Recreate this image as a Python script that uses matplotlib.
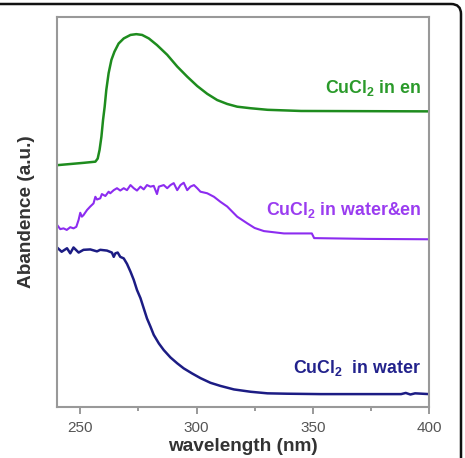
import matplotlib
matplotlib.use('Agg')
import matplotlib.pyplot as plt
from matplotlib.path import Path
from matplotlib.patches import PathPatch

plt.rcParams['font.family'] = ['Liberation Sans', 'DejaVu Sans']
plt.rcParams['mathtext.fontset'] = 'custom'
plt.rcParams['mathtext.bf'] = 'Liberation Sans:bold'
plt.rcParams['mathtext.rm'] = 'Liberation Sans:bold'
plt.rcParams['mathtext.default'] = 'bf'

# CuCl2 in en
wl_en = [240, 245.7, 251.4, 256.5, 257.5, 258.3, 259.1, 259.8, 260.5, 261.2,
         262.2, 263.4, 264.7, 266.5, 268.7, 271.6, 274.1, 276.6, 279.5, 283.0,
         287.4, 291.7, 296.0, 300.3, 304.6, 308.9, 313.2, 317.5, 323.3, 330.6,
         345, 400]
ab_en = [62.0, 62.3, 62.6, 62.9, 63.7, 65.9, 69.3, 73.6, 77.0, 81.3,
         85.6, 89.0, 91.1, 93.2, 94.5, 95.4, 95.6, 95.4, 94.5, 92.8,
         90.3, 87.3, 84.7, 82.3, 80.3, 78.7, 77.7, 77.0, 76.6, 76.2,
         75.9, 75.8]

# CuCl2 in water&en
wl_mix = [240, 241.4, 242.8, 244.2, 245.7, 247.1, 248.3, 249.3, 250.0, 250.7,
          251.4, 252.9, 254.3, 255.7, 256.5, 257.2, 258.6, 259.3, 260.8, 262.2,
          262.9, 264.4, 265.8, 267.2, 268.7, 270.1, 271.6, 273.0, 274.4, 275.9,
          277.3, 278.7, 280.2, 281.6, 283.0, 283.8, 285.9, 287.4, 288.8, 290.2,
          291.7, 293.1, 294.5, 296.0, 297.4, 298.9, 300.3, 301.7, 304.6, 307.5,
          310.3, 313.2, 317.5, 321.8, 325, 329, 337.6, 349.6, 350.6, 373.6, 400]
ab_mix = [46.7, 45.6, 45.8, 45.4, 46.1, 45.8, 46.2, 48.0, 49.8, 48.8,
          49.2, 50.5, 51.4, 52.2, 53.9, 53.2, 53.5, 54.6, 54.1, 55.2,
          54.8, 55.6, 56.1, 55.5, 56.1, 55.6, 56.9, 56.1, 55.5, 56.5,
          55.8, 56.9, 56.5, 56.7, 54.6, 56.5, 56.9, 56.1, 56.9, 57.4,
          55.6, 56.9, 57.5, 55.6, 56.5, 56.9, 56.1, 55.2, 54.8, 53.9,
          52.6, 51.4, 48.8, 47.1, 45.9, 45.1, 44.5, 44.5, 43.3, 43.1, 43.0]

# CuCl2 in water
wl_w = [240, 242, 244.3, 245.7, 247.1, 249.3, 251.4, 254.3, 257.2, 258.6,
        261.5, 263.6, 264.4, 265.1, 266.1, 267.2, 268.7, 270.1, 271.6, 273.0,
        274.4, 275.9, 277.3, 278.7, 280.2, 281.6, 283.8, 285.9, 288.8, 291.7,
        294.5, 298.1, 301.7, 306.0, 310.3, 316.1, 323.3, 330.5, 339.1, 353.4,
        388, 390, 392, 394, 400]
ab_w = [40.9, 39.8, 40.7, 39.4, 40.9, 39.6, 40.3, 40.4, 39.9, 40.3,
        40.1, 39.6, 38.5, 39.4, 39.6, 38.5, 38.1, 36.7, 34.7, 32.6,
        30.0, 27.9, 25.3, 22.7, 20.6, 18.5, 16.3, 14.6, 12.7, 11.2,
        9.9, 8.6, 7.4, 6.2, 5.4, 4.5, 3.9, 3.5, 3.4, 3.3,
        3.3, 3.6, 3.2, 3.5, 3.3]

labels = [r'CuCl$_2$ in en', r'CuCl$_2$ in water&en', r'CuCl$_2$  in water']
label_y = [80.6, 49.2, 8.6]
line_colors = ['#1e8c1e', '#8c2cf0', '#1c1c84']
text_colors = ['#2a9a2a', '#9a3cf0', '#22228c']

fig = plt.figure(figsize=(4.65, 4.58), dpi=100)
ax = fig.add_axes([0.1226, 0.1114, 0.8, 0.8515])

ax.plot(wl_en, ab_en, color=line_colors[0], lw=1.8)
ax.plot(wl_mix, ab_mix, color=line_colors[1], lw=1.5)
ax.plot(wl_w, ab_w, color=line_colors[2], lw=1.8)

for lab, y, c in zip(labels, label_y, text_colors):
    ax.text(396.6, y, lab, color=c, fontsize=12.8, fontweight='bold',
            ha='right', va='baseline')

ax.set_xlim(240, 400)
ax.set_ylim(0, 100)
ax.set_xticks([250, 300, 350, 400])
ax.set_xticks([275, 325, 375], minor=True)
ax.set_yticks([])
ax.tick_params(axis='x', which='major', length=5, width=1.2, color='#888888',
               labelsize=11, labelcolor='#555555', pad=5)
ax.tick_params(axis='x', which='minor', length=3, width=1.2, color='#888888')
for s in ax.spines.values():
    s.set_color('#999999')
    s.set_linewidth(1.5)

ax.set_xlabel('wavelength (nm)', fontsize=13.7, fontweight='bold',
              color='#333333', labelpad=2)
ax.set_ylabel('Abandence (a.u.)', fontsize=13.7, fontweight='bold',
              color='#333333', labelpad=16)

# rounded frame of the cropped picture (top and right edges)
W, H = 465, 458
r = 10
verts = [(0, H - 4), (W - 4 - r, H - 4), (W - 4, H - 4), (W - 4, H - 4 - r), (W - 4, 0)]
codes = [Path.MOVETO, Path.LINETO, Path.CURVE3, Path.CURVE3, Path.LINETO]
frame = PathPatch(Path([(x / W, y / H) for x, y in verts], codes),
                  transform=fig.transFigure, fill=False, lw=1.8, color='#111111')
fig.patches.append(frame)

fig.savefig('out.png', dpi=100)
